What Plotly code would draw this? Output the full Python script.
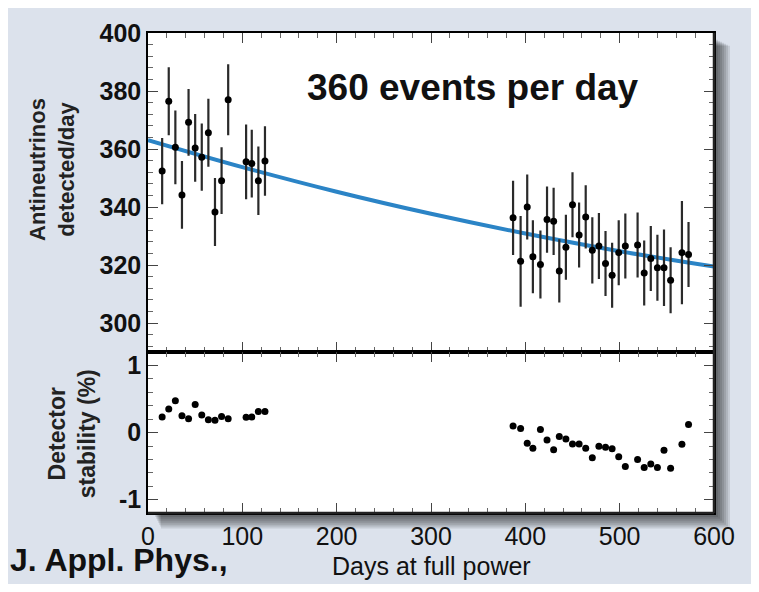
import plotly.graph_objects as go
from plotly.subplots import make_subplots

# ---- data ----
days_a = [15, 22, 29, 36, 43, 50, 57, 64, 71, 78, 85, 104, 110, 117, 124]
rate_a = [352.4, 376.5, 360.6, 344.2, 369.2, 360.4, 357.2, 365.6, 338.3, 349.1, 377.0, 355.6, 355.0, 349.1, 355.9]
err_a = [11.4, 11.7, 12.7, 11.7, 11.5, 11.7, 11.6, 11.7, 11.7, 11.5, 12.2, 12.9, 11.7, 11.8, 12.0]
stab_a = [0.232, 0.352, 0.474, 0.251, 0.207, 0.420, 0.261, 0.193, 0.184, 0.242, 0.207, 0.228, 0.232, 0.314, 0.314]

days_b = [387, 395, 402, 408, 416, 423, 430, 436, 443, 450, 457, 464, 471, 478, 485, 492, 499, 506,
          519, 526, 533, 540, 547, 554, 566, 573]
rate_b = [336.3, 321.3, 340.0, 322.9, 320.2, 335.7, 335.1, 318.0, 326.2, 340.8, 330.4, 336.6, 325.1, 326.6,
          320.6, 316.5, 324.3, 326.6, 326.9, 317.3, 322.3, 319.1, 319.1, 314.8, 324.3, 323.7]
err_b = [12.8, 15.6, 11.2, 12.6, 11.7, 11.4, 11.6, 10.9, 11.2, 11.2, 11.2, 10.9, 11.4, 11.4,
         11.2, 11.2, 11.2, 11.2, 11.2, 11.2, 11.2, 11.4, 13.2, 11.4, 17.8, 11.2]
stab_b = [0.097, 0.062, -0.159, -0.232, 0.048, -0.112, -0.257, -0.058, -0.097, -0.170, -0.170, -0.232,
          -0.377, -0.203, -0.217, -0.242, -0.362, -0.507, -0.401, -0.522, -0.468, -0.522, -0.265, -0.532,
          -0.174, 0.120]

fit_days = [0, 100, 200, 300, 400, 500, 600]
fit_rate = [363.1, 353.8, 345.3, 337.7, 330.9, 324.8, 319.5]

x_ticks = [0, 100, 200, 300, 400, 500, 600]
y1_ticks = [300, 320, 340, 360, 380, 400]
y2_ticks = [-1, 0, 1]
y2_labels = ["-1", "0", "1"]

# ---- figure (page body has an 8px margin, so the figure is laid out 8px inset) ----
OFF = 8
W, H = 743, 576
L, R, T, B = 140, 37, 11, 71
pw, ph = W - L - R, H - T - B
top_h = 328.5

fig = make_subplots(rows=2, cols=1, shared_xaxes=True, vertical_spacing=0,
                    row_heights=[top_h / ph, 1 - top_h / ph])

days_all = days_a + days_b
rate_all = rate_a + rate_b
err_all = err_a + err_b
stab_all = stab_a + stab_b

fig.add_trace(go.Scatter(x=fit_days, y=fit_rate, mode="lines", line=dict(color="#2b84c6", width=4, shape="spline"),
                         hoverinfo="skip"), row=1, col=1)
fig.add_trace(go.Scatter(x=days_all, y=rate_all, mode="markers",
                         marker=dict(color="black", size=7),
                         error_y=dict(type="data", array=err_all, visible=True, color="#2a2a2a", thickness=2.2, width=0)),
              row=1, col=1)
fig.add_trace(go.Scatter(x=days_all, y=stab_all, mode="markers", marker=dict(color="black", size=7)),
              row=2, col=1)

FONT = "Liberation Sans, Arial, Helvetica, sans-serif"
common_x = dict(range=[0, 600], showline=True, linecolor="black", linewidth=1.5, mirror="ticks",
                ticks="inside", ticklen=10, tickcolor="#444", tickwidth=1,
                tickvals=x_ticks, showgrid=False, zeroline=False, ticklabeloverflow="allow",
                minor=dict(ticks="inside", dtick=20, ticklen=5, tickcolor="#666", showgrid=False))
fig.update_xaxes(**common_x)
fig.update_xaxes(showticklabels=False, row=1, col=1)
fig.update_xaxes(showticklabels=True, tickfont=dict(family=FONT, size=25, color="#111"), row=2, col=1)

fig.update_yaxes(range=[290, 400], showline=True, linecolor="black", linewidth=1.5, mirror="ticks",
                 ticks="inside", ticklen=10, tickcolor="#444", tickvals=y1_ticks, showgrid=False, zeroline=False,
                 tickfont=dict(family=FONT, size=25, color="#111", weight="bold"), ticklabeloverflow="allow",
                 minor=dict(ticks="inside", dtick=4, ticklen=5, tickcolor="#666", showgrid=False),
                 row=1, col=1)
fig.update_yaxes(range=[-1.2, 1.2], showline=True, linecolor="black", linewidth=1.5, mirror="ticks",
                 ticks="inside", ticklen=10, tickcolor="#444", tickvals=y2_ticks, ticktext=y2_labels,
                 showgrid=False, zeroline=False, ticklabeloverflow="allow",
                 tickfont=dict(family=FONT, size=25, color="#111", weight="bold"),
                 minor=dict(ticks="inside", dtick=0.2, ticklen=5, tickcolor="#666", showgrid=False),
                 row=2, col=1)

# convert window pixel positions to paper coordinates
def px(xp):
    return (xp - OFF - L) / pw

def py(yp):
    return (H - B - (yp - OFF)) / ph

ann = [
    dict(text="360 events per day", x=px(473), y=py(75), font=dict(family=FONT, size=37, color="#111", weight="bold")),
    dict(text="Antineutrinos<br>detected/day", x=px(52), y=py(160), textangle=-90,
         font=dict(family=FONT, size=22, color="#222", weight="bold")),
    dict(text="Detector<br>stability (%)", x=px(72), y=py(432), textangle=-90,
         font=dict(family=FONT, size=23, color="#222", weight="bold")),
    dict(text="Days at full power", x=px(431), y=py(584), yanchor="bottom",
         font=dict(family=FONT, size=25, color="#111")),
    dict(text="J. Appl. Phys.,", x=px(8), y=py(561), xanchor="left",
         font=dict(family=FONT, size=32, color="#111", weight="bold")),
]
annotations = []
for a in ann:
    d = dict(xref="paper", yref="paper", showarrow=False, xanchor="center", yanchor="middle")
    d.update(a)
    annotations.append(d)

shapes = []
right_px = OFF + W - R
bottom_px = OFF + H - B
left_px = OFF + L
top_px = OFF + T
# drop shadow on right and bottom of the frame
for i in range(8):
    w = 2 * (i + 1)
    shapes.append(dict(type="rect", xref="paper", yref="paper", layer="below",
                       x0=px(right_px), x1=px(right_px + w), y0=py(bottom_px + w), y1=py(top_px + 6 + i),
                       fillcolor="rgba(0,0,0,0.1)", line=dict(width=0)))
    shapes.append(dict(type="rect", xref="paper", yref="paper", layer="below",
                       x0=px(left_px + 6 + i), x1=px(right_px), y0=py(bottom_px + w), y1=py(bottom_px),
                       fillcolor="rgba(0,0,0,0.1)", line=dict(width=0)))
# thicker right and bottom frame lines
shapes.append(dict(type="line", xref="paper", yref="paper", x0=1, x1=1, y0=0, y1=1,
                   line=dict(color="#222", width=2.5)))
shapes.append(dict(type="line", xref="paper", yref="paper", x0=0, x1=1, y0=0, y1=0,
                   line=dict(color="#222", width=2.5)))

fig.update_layout(width=W, height=H, margin=dict(l=L, r=R, t=T, b=B),
                  paper_bgcolor="#dce2ec", plot_bgcolor="white", showlegend=False,
                  annotations=annotations, shapes=shapes, font=dict(family=FONT))

fig.write_html("out.html")
